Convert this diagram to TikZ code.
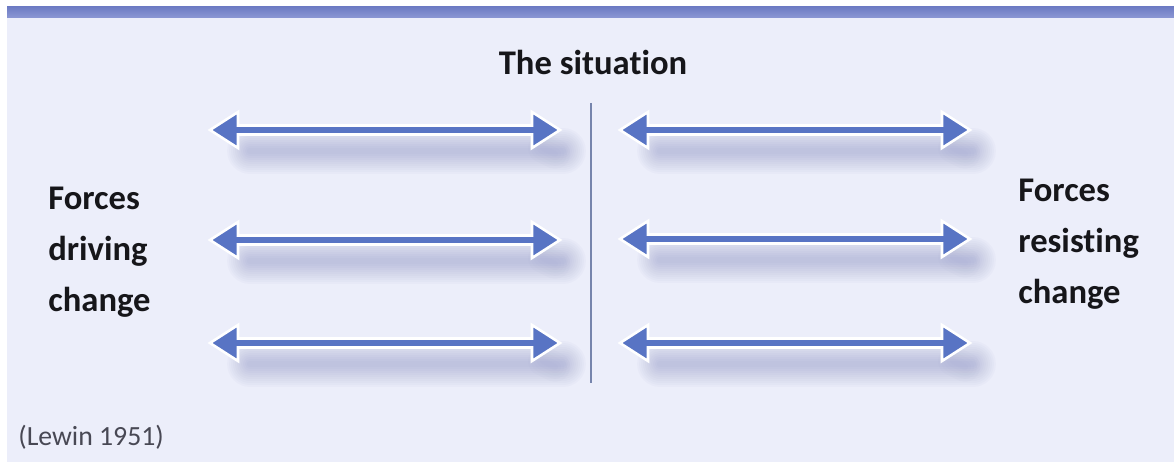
\documentclass[tikz,border=0pt]{standalone}
\usepackage{fontspec}
\setmainfont{Carlito}[Ligatures=NoCommon]
\definecolor{bgc}{RGB}{236,238,250}
\definecolor{bandtop}{RGB}{110,124,196}
\definecolor{bandbot}{RGB}{140,152,212}
\definecolor{arrowc}{RGB}{88,116,196}
\definecolor{shadowc}{RGB}{100,108,172}
\definecolor{dividerc}{RGB}{118,132,172}
\definecolor{textc}{RGB}{22,22,26}
\definecolor{citec}{RGB}{72,72,84}
\tikzset{
  px/.style={line width={#1*0.567pt}},
  dblarrow/.pic={
    \foreach \w in {46,42,38,34,30,26,22,18,14,10,6}{
      \draw[shadowc,opacity=0.03,px=\w,line cap=round]
        (-135,21) -- (178,21);
    }
    \foreach \w in {30,24,18,12,6}{
      \draw[shadowc,opacity=0.02,px=\w,line cap=round] (158,18) -- (170,24);
    }
    \filldraw[draw=white,fill=arrowc,px=2.6,line join=miter]
      (-175,0) -- (-147,-18) -- (-147,-4.5) -- (147,-4.5) -- (147,-18)
      -- (175,0) -- (147,18) -- (147,4.5) -- (-147,4.5) -- (-147,18) -- cycle;
  },
  heading/.style={font=\fontsize{19.7}{24}\selectfont\bfseries, text=textc, inner sep=0pt},
  sidelabel/.style={font=\fontsize{19.7}{29}\selectfont\bfseries, text=textc, align=left, inner sep=0pt},
  cite/.style={font=\fontsize{15.8}{19}\selectfont, text=citec, inner sep=0pt},
  divider/.style={draw=dividerc, px=2.2}
}
\begin{document}
\begin{tikzpicture}[x=0.02cm,y=-0.02cm]
\useasboundingbox (0,0) rectangle (1174,462);
\fill[white] (0,0) rectangle (1174,462);
\fill[bgc] (7,18) rectangle (1174,462);
\shade[top color=bandtop,bottom color=bandbot] (7,7) rectangle (1174,18);

% arrows
\pic (L1) at (385,130) {dblarrow};
\pic (L2) at (385,240) {dblarrow};
\pic (L3) at (385,343) {dblarrow};
\pic (R1) at (795,130) {dblarrow};
\pic (R2) at (795,239) {dblarrow};
\pic (R3) at (795,343) {dblarrow};

% divider
\coordinate (dtop) at (591,103);
\coordinate (dbot) at (591,383);
\draw[divider] (dtop) -- (dbot);

% texts
\node[heading] (title) at (593,62) {The situation};
\node[sidelabel,anchor=west] (driving) at (48,252) {Forces\\driving\\change};
\node[sidelabel,anchor=west] (resisting) at (1018,244) {Forces\\resisting\\change};
\node[cite,anchor=west] (lewin) at (18,437) {(Lewin 1951)};
\end{tikzpicture}
\end{document}
